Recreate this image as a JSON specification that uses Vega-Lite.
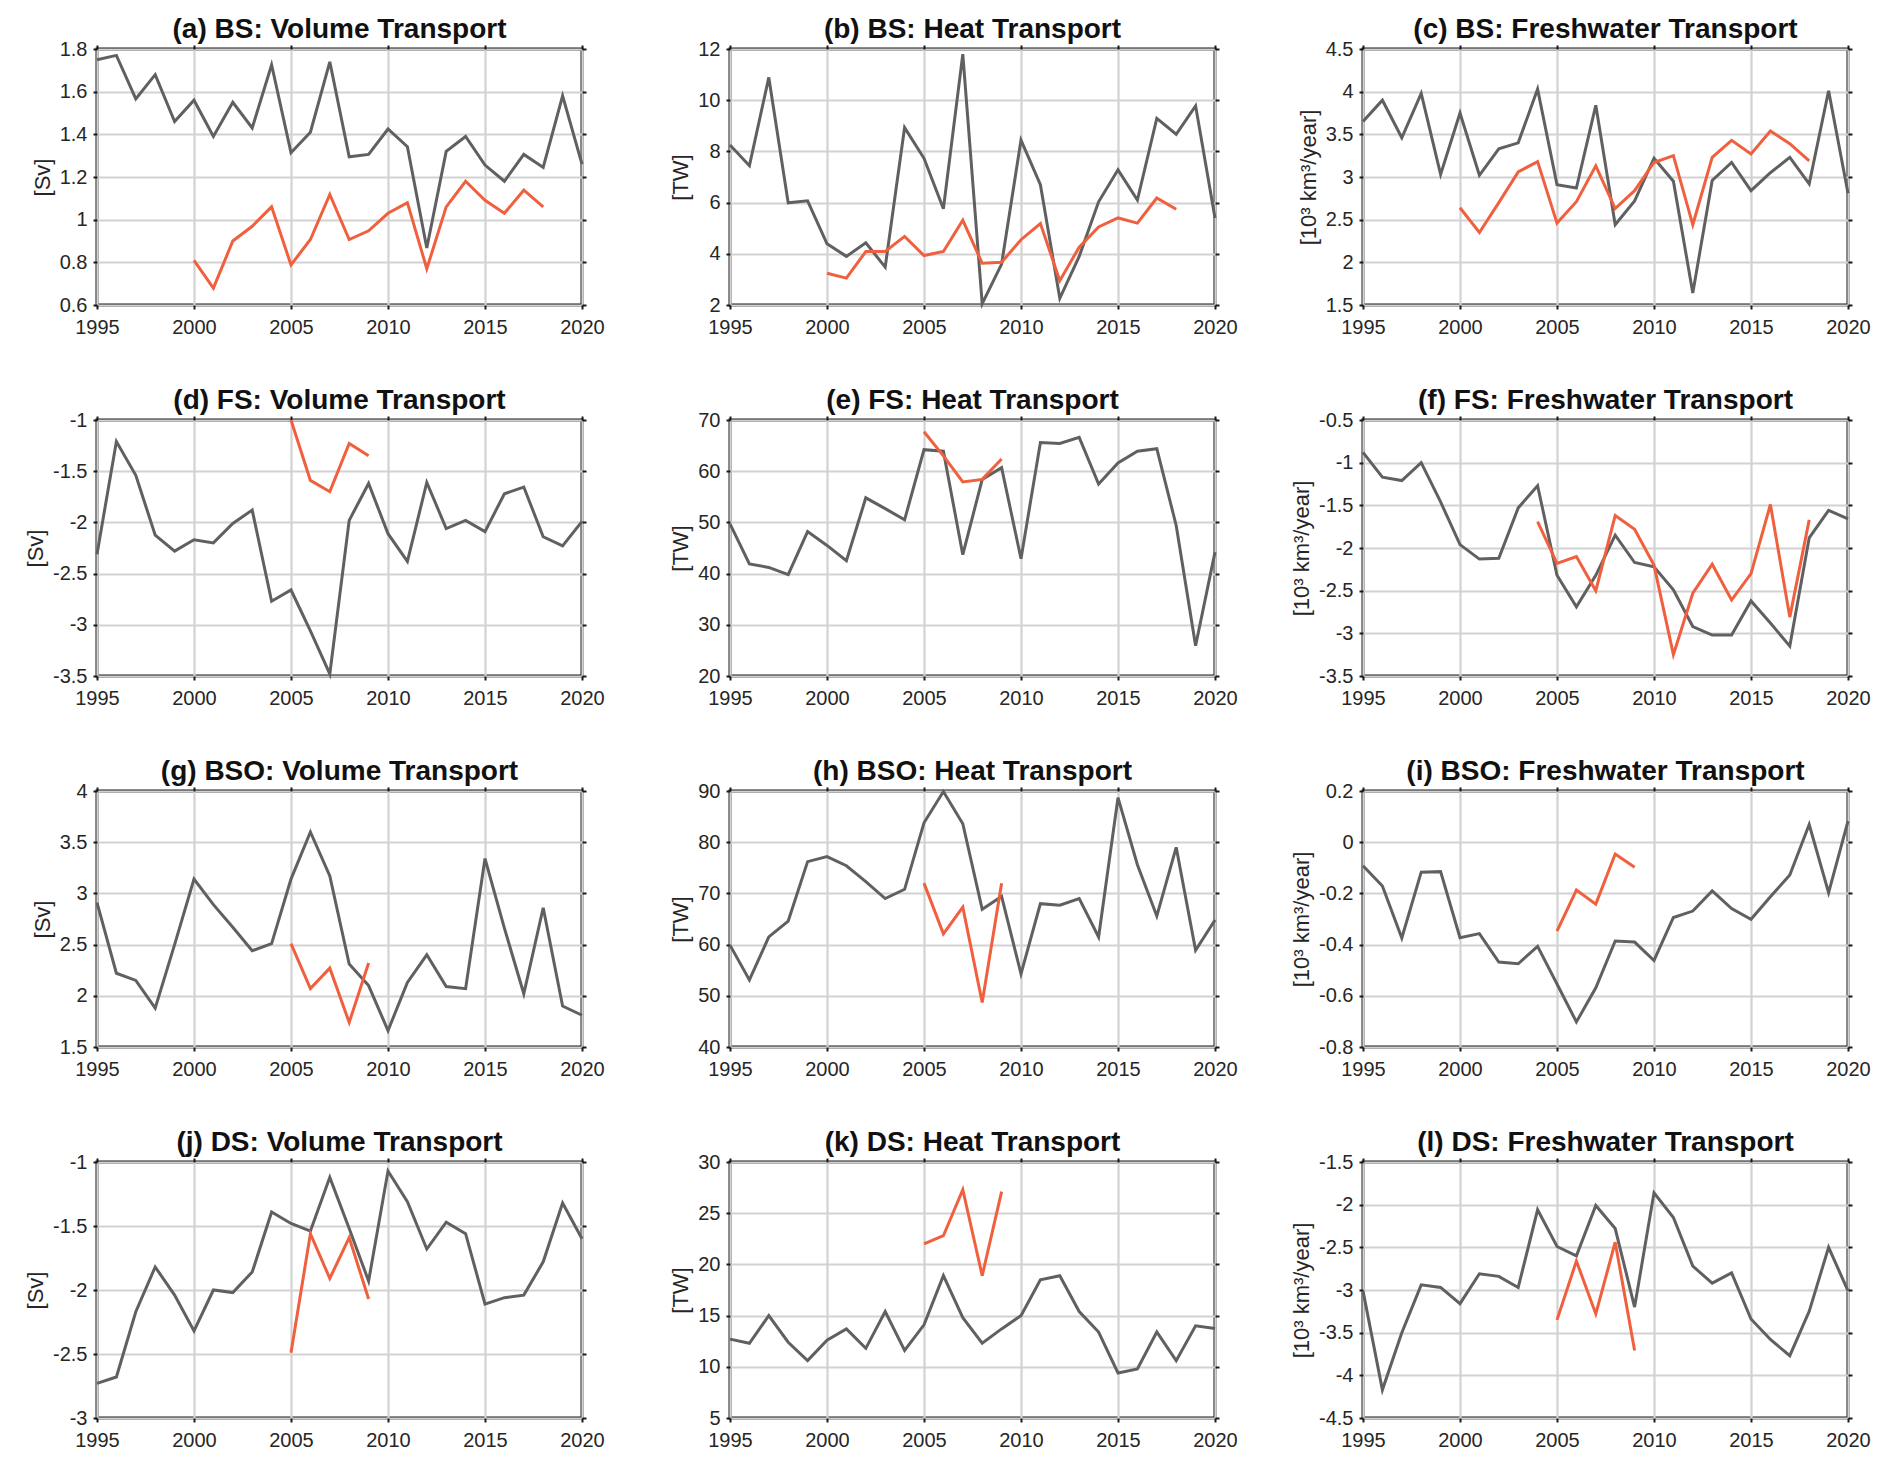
{
"$schema": "https://vega.github.io/schema/vega-lite/v6.json",
"padding": {"left": 23, "top": 14, "right": 10, "bottom": 10},
"background": "white",
"data": {"values": [
{"p":"a","s":"g","year":1995,"v":1.75},{"p":"a","s":"g","year":1996,"v":1.77},{"p":"a","s":"g","year":1997,"v":1.566},{"p":"a","s":"g","year":1998,"v":1.68},{"p":"a","s":"g","year":1999,"v":1.46},{"p":"a","s":"g","year":2000,"v":1.56},{"p":"a","s":"g","year":2001,"v":1.39},{"p":"a","s":"g","year":2002,"v":1.55},{"p":"a","s":"g","year":2003,"v":1.43},{"p":"a","s":"g","year":2004,"v":1.726},{"p":"a","s":"g","year":2005,"v":1.314},{"p":"a","s":"g","year":2006,"v":1.41},{"p":"a","s":"g","year":2007,"v":1.74},{"p":"a","s":"g","year":2008,"v":1.295},{"p":"a","s":"g","year":2009,"v":1.306},{"p":"a","s":"g","year":2010,"v":1.425},{"p":"a","s":"g","year":2011,"v":1.342},{"p":"a","s":"g","year":2012,"v":0.867},{"p":"a","s":"g","year":2013,"v":1.32},{"p":"a","s":"g","year":2014,"v":1.39},{"p":"a","s":"g","year":2015,"v":1.256},{"p":"a","s":"g","year":2016,"v":1.18},{"p":"a","s":"g","year":2017,"v":1.306},{"p":"a","s":"g","year":2018,"v":1.245},{"p":"a","s":"g","year":2019,"v":1.58},{"p":"a","s":"g","year":2020,"v":1.26},
{"p":"a","s":"r","year":2000,"v":0.809},{"p":"a","s":"r","year":2001,"v":0.679},{"p":"a","s":"r","year":2002,"v":0.9},{"p":"a","s":"r","year":2003,"v":0.969},{"p":"a","s":"r","year":2004,"v":1.06},{"p":"a","s":"r","year":2005,"v":0.788},{"p":"a","s":"r","year":2006,"v":0.907},{"p":"a","s":"r","year":2007,"v":1.118},{"p":"a","s":"r","year":2008,"v":0.907},{"p":"a","s":"r","year":2009,"v":0.948},{"p":"a","s":"r","year":2010,"v":1.03},{"p":"a","s":"r","year":2011,"v":1.08},{"p":"a","s":"r","year":2012,"v":0.77},{"p":"a","s":"r","year":2013,"v":1.06},{"p":"a","s":"r","year":2014,"v":1.18},{"p":"a","s":"r","year":2015,"v":1.091},{"p":"a","s":"r","year":2016,"v":1.03},{"p":"a","s":"r","year":2017,"v":1.138},{"p":"a","s":"r","year":2018,"v":1.06},
{"p":"b","s":"g","year":1995,"v":8.25},{"p":"b","s":"g","year":1996,"v":7.44},{"p":"b","s":"g","year":1997,"v":10.89},{"p":"b","s":"g","year":1998,"v":5.99},{"p":"b","s":"g","year":1999,"v":6.07},{"p":"b","s":"g","year":2000,"v":4.39},{"p":"b","s":"g","year":2001,"v":3.9},{"p":"b","s":"g","year":2002,"v":4.43},{"p":"b","s":"g","year":2003,"v":3.48},{"p":"b","s":"g","year":2004,"v":8.93},{"p":"b","s":"g","year":2005,"v":7.73},{"p":"b","s":"g","year":2006,"v":5.76},{"p":"b","s":"g","year":2007,"v":11.8},{"p":"b","s":"g","year":2008,"v":2.05},{"p":"b","s":"g","year":2009,"v":3.6},{"p":"b","s":"g","year":2010,"v":8.44},{"p":"b","s":"g","year":2011,"v":6.7},{"p":"b","s":"g","year":2012,"v":2.26},{"p":"b","s":"g","year":2013,"v":3.9},{"p":"b","s":"g","year":2014,"v":6.03},{"p":"b","s":"g","year":2015,"v":7.28},{"p":"b","s":"g","year":2016,"v":6.1},{"p":"b","s":"g","year":2017,"v":9.29},{"p":"b","s":"g","year":2018,"v":8.67},{"p":"b","s":"g","year":2019,"v":9.78},{"p":"b","s":"g","year":2020,"v":5.4},
{"p":"b","s":"r","year":2000,"v":3.24},{"p":"b","s":"r","year":2001,"v":3.05},{"p":"b","s":"r","year":2002,"v":4.09},{"p":"b","s":"r","year":2003,"v":4.09},{"p":"b","s":"r","year":2004,"v":4.68},{"p":"b","s":"r","year":2005,"v":3.93},{"p":"b","s":"r","year":2006,"v":4.09},{"p":"b","s":"r","year":2007,"v":5.31},{"p":"b","s":"r","year":2008,"v":3.63},{"p":"b","s":"r","year":2009,"v":3.67},{"p":"b","s":"r","year":2010,"v":4.55},{"p":"b","s":"r","year":2011,"v":5.18},{"p":"b","s":"r","year":2012,"v":2.95},{"p":"b","s":"r","year":2013,"v":4.26},{"p":"b","s":"r","year":2014,"v":5.05},{"p":"b","s":"r","year":2015,"v":5.4},{"p":"b","s":"r","year":2016,"v":5.2},{"p":"b","s":"r","year":2017,"v":6.18},{"p":"b","s":"r","year":2018,"v":5.74},
{"p":"c","s":"g","year":1995,"v":3.65},{"p":"c","s":"g","year":1996,"v":3.9},{"p":"c","s":"g","year":1997,"v":3.46},{"p":"c","s":"g","year":1998,"v":3.98},{"p":"c","s":"g","year":1999,"v":3.03},{"p":"c","s":"g","year":2000,"v":3.75},{"p":"c","s":"g","year":2001,"v":3.02},{"p":"c","s":"g","year":2002,"v":3.33},{"p":"c","s":"g","year":2003,"v":3.4},{"p":"c","s":"g","year":2004,"v":4.03},{"p":"c","s":"g","year":2005,"v":2.91},{"p":"c","s":"g","year":2006,"v":2.87},{"p":"c","s":"g","year":2007,"v":3.84},{"p":"c","s":"g","year":2008,"v":2.44},{"p":"c","s":"g","year":2009,"v":2.72},{"p":"c","s":"g","year":2010,"v":3.22},{"p":"c","s":"g","year":2011,"v":2.95},{"p":"c","s":"g","year":2012,"v":1.64},{"p":"c","s":"g","year":2013,"v":2.96},{"p":"c","s":"g","year":2014,"v":3.17},{"p":"c","s":"g","year":2015,"v":2.84},{"p":"c","s":"g","year":2016,"v":3.05},{"p":"c","s":"g","year":2017,"v":3.23},{"p":"c","s":"g","year":2018,"v":2.92},{"p":"c","s":"g","year":2019,"v":4.01},{"p":"c","s":"g","year":2020,"v":2.81},
{"p":"c","s":"r","year":2000,"v":2.64},{"p":"c","s":"r","year":2001,"v":2.35},{"p":"c","s":"r","year":2002,"v":2.7},{"p":"c","s":"r","year":2003,"v":3.06},{"p":"c","s":"r","year":2004,"v":3.18},{"p":"c","s":"r","year":2005,"v":2.46},{"p":"c","s":"r","year":2006,"v":2.71},{"p":"c","s":"r","year":2007,"v":3.13},{"p":"c","s":"r","year":2008,"v":2.63},{"p":"c","s":"r","year":2009,"v":2.84},{"p":"c","s":"r","year":2010,"v":3.17},{"p":"c","s":"r","year":2011,"v":3.25},{"p":"c","s":"r","year":2012,"v":2.44},{"p":"c","s":"r","year":2013,"v":3.23},{"p":"c","s":"r","year":2014,"v":3.43},{"p":"c","s":"r","year":2015,"v":3.27},{"p":"c","s":"r","year":2016,"v":3.54},{"p":"c","s":"r","year":2017,"v":3.39},{"p":"c","s":"r","year":2018,"v":3.19},
{"p":"d","s":"g","year":1995,"v":-2.31},{"p":"d","s":"g","year":1996,"v":-1.21},{"p":"d","s":"g","year":1997,"v":-1.54},{"p":"d","s":"g","year":1998,"v":-2.125},{"p":"d","s":"g","year":1999,"v":-2.28},{"p":"d","s":"g","year":2000,"v":-2.17},{"p":"d","s":"g","year":2001,"v":-2.2},{"p":"d","s":"g","year":2002,"v":-2.01},{"p":"d","s":"g","year":2003,"v":-1.88},{"p":"d","s":"g","year":2004,"v":-2.77},{"p":"d","s":"g","year":2005,"v":-2.66},{"p":"d","s":"g","year":2006,"v":-3.06},{"p":"d","s":"g","year":2007,"v":-3.48},{"p":"d","s":"g","year":2008,"v":-1.98},{"p":"d","s":"g","year":2009,"v":-1.62},{"p":"d","s":"g","year":2010,"v":-2.11},{"p":"d","s":"g","year":2011,"v":-2.38},{"p":"d","s":"g","year":2012,"v":-1.61},{"p":"d","s":"g","year":2013,"v":-2.06},{"p":"d","s":"g","year":2014,"v":-1.98},{"p":"d","s":"g","year":2015,"v":-2.09},{"p":"d","s":"g","year":2016,"v":-1.72},{"p":"d","s":"g","year":2017,"v":-1.655},{"p":"d","s":"g","year":2018,"v":-2.14},{"p":"d","s":"g","year":2019,"v":-2.23},{"p":"d","s":"g","year":2020,"v":-1.99},
{"p":"d","s":"r","year":2005,"v":-1.0},{"p":"d","s":"r","year":2006,"v":-1.59},{"p":"d","s":"r","year":2007,"v":-1.7},{"p":"d","s":"r","year":2008,"v":-1.23},{"p":"d","s":"r","year":2009,"v":-1.35},
{"p":"e","s":"g","year":1995,"v":49.7},{"p":"e","s":"g","year":1996,"v":41.9},{"p":"e","s":"g","year":1997,"v":41.2},{"p":"e","s":"g","year":1998,"v":39.8},{"p":"e","s":"g","year":1999,"v":48.2},{"p":"e","s":"g","year":2000,"v":45.5},{"p":"e","s":"g","year":2001,"v":42.5},{"p":"e","s":"g","year":2002,"v":54.8},{"p":"e","s":"g","year":2003,"v":52.7},{"p":"e","s":"g","year":2004,"v":50.5},{"p":"e","s":"g","year":2005,"v":64.2},{"p":"e","s":"g","year":2006,"v":63.9},{"p":"e","s":"g","year":2007,"v":43.7},{"p":"e","s":"g","year":2008,"v":58.4},{"p":"e","s":"g","year":2009,"v":60.7},{"p":"e","s":"g","year":2010,"v":42.9},{"p":"e","s":"g","year":2011,"v":65.6},{"p":"e","s":"g","year":2012,"v":65.4},{"p":"e","s":"g","year":2013,"v":66.6},{"p":"e","s":"g","year":2014,"v":57.5},{"p":"e","s":"g","year":2015,"v":61.6},{"p":"e","s":"g","year":2016,"v":63.9},{"p":"e","s":"g","year":2017,"v":64.4},{"p":"e","s":"g","year":2018,"v":49.4},{"p":"e","s":"g","year":2019,"v":25.9},{"p":"e","s":"g","year":2020,"v":44.2},
{"p":"e","s":"r","year":2005,"v":67.7},{"p":"e","s":"r","year":2006,"v":63.0},{"p":"e","s":"r","year":2007,"v":57.9},{"p":"e","s":"r","year":2008,"v":58.4},{"p":"e","s":"r","year":2009,"v":62.4},
{"p":"f","s":"g","year":1995,"v":-0.88},{"p":"f","s":"g","year":1996,"v":-1.17},{"p":"f","s":"g","year":1997,"v":-1.21},{"p":"f","s":"g","year":1998,"v":-1.0},{"p":"f","s":"g","year":1999,"v":-1.46},{"p":"f","s":"g","year":2000,"v":-1.96},{"p":"f","s":"g","year":2001,"v":-2.13},{"p":"f","s":"g","year":2002,"v":-2.12},{"p":"f","s":"g","year":2003,"v":-1.53},{"p":"f","s":"g","year":2004,"v":-1.27},{"p":"f","s":"g","year":2005,"v":-2.32},{"p":"f","s":"g","year":2006,"v":-2.69},{"p":"f","s":"g","year":2007,"v":-2.32},{"p":"f","s":"g","year":2008,"v":-1.85},{"p":"f","s":"g","year":2009,"v":-2.17},{"p":"f","s":"g","year":2010,"v":-2.22},{"p":"f","s":"g","year":2011,"v":-2.49},{"p":"f","s":"g","year":2012,"v":-2.92},{"p":"f","s":"g","year":2013,"v":-3.02},{"p":"f","s":"g","year":2014,"v":-3.02},{"p":"f","s":"g","year":2015,"v":-2.62},{"p":"f","s":"g","year":2016,"v":-2.88},{"p":"f","s":"g","year":2017,"v":-3.15},{"p":"f","s":"g","year":2018,"v":-1.88},{"p":"f","s":"g","year":2019,"v":-1.56},{"p":"f","s":"g","year":2020,"v":-1.66},
{"p":"f","s":"r","year":2004,"v":-1.69},{"p":"f","s":"r","year":2005,"v":-2.18},{"p":"f","s":"r","year":2006,"v":-2.1},{"p":"f","s":"r","year":2007,"v":-2.5},{"p":"f","s":"r","year":2008,"v":-1.62},{"p":"f","s":"r","year":2009,"v":-1.78},{"p":"f","s":"r","year":2010,"v":-2.2},{"p":"f","s":"r","year":2011,"v":-3.25},{"p":"f","s":"r","year":2012,"v":-2.53},{"p":"f","s":"r","year":2013,"v":-2.19},{"p":"f","s":"r","year":2014,"v":-2.61},{"p":"f","s":"r","year":2015,"v":-2.3},{"p":"f","s":"r","year":2016,"v":-1.49},{"p":"f","s":"r","year":2017,"v":-2.81},{"p":"f","s":"r","year":2018,"v":-1.67},
{"p":"g","s":"g","year":1995,"v":2.91},{"p":"g","s":"g","year":1996,"v":2.22},{"p":"g","s":"g","year":1997,"v":2.15},{"p":"g","s":"g","year":1998,"v":1.88},{"p":"g","s":"g","year":1999,"v":2.5},{"p":"g","s":"g","year":2000,"v":3.14},{"p":"g","s":"g","year":2001,"v":2.89},{"p":"g","s":"g","year":2002,"v":2.67},{"p":"g","s":"g","year":2003,"v":2.44},{"p":"g","s":"g","year":2004,"v":2.51},{"p":"g","s":"g","year":2005,"v":3.14},{"p":"g","s":"g","year":2006,"v":3.6},{"p":"g","s":"g","year":2007,"v":3.17},{"p":"g","s":"g","year":2008,"v":2.31},{"p":"g","s":"g","year":2009,"v":2.1},{"p":"g","s":"g","year":2010,"v":1.66},{"p":"g","s":"g","year":2011,"v":2.13},{"p":"g","s":"g","year":2012,"v":2.4},{"p":"g","s":"g","year":2013,"v":2.09},{"p":"g","s":"g","year":2014,"v":2.07},{"p":"g","s":"g","year":2015,"v":3.34},{"p":"g","s":"g","year":2016,"v":2.66},{"p":"g","s":"g","year":2017,"v":2.02},{"p":"g","s":"g","year":2018,"v":2.86},{"p":"g","s":"g","year":2019,"v":1.9},{"p":"g","s":"g","year":2020,"v":1.81},
{"p":"g","s":"r","year":2005,"v":2.51},{"p":"g","s":"r","year":2006,"v":2.07},{"p":"g","s":"r","year":2007,"v":2.27},{"p":"g","s":"r","year":2008,"v":1.74},{"p":"g","s":"r","year":2009,"v":2.32},
{"p":"h","s":"g","year":1995,"v":59.9},{"p":"h","s":"g","year":1996,"v":53.1},{"p":"h","s":"g","year":1997,"v":61.5},{"p":"h","s":"g","year":1998,"v":64.6},{"p":"h","s":"g","year":1999,"v":76.2},{"p":"h","s":"g","year":2000,"v":77.2},{"p":"h","s":"g","year":2001,"v":75.4},{"p":"h","s":"g","year":2002,"v":72.3},{"p":"h","s":"g","year":2003,"v":69.0},{"p":"h","s":"g","year":2004,"v":70.8},{"p":"h","s":"g","year":2005,"v":83.8},{"p":"h","s":"g","year":2006,"v":89.9},{"p":"h","s":"g","year":2007,"v":83.6},{"p":"h","s":"g","year":2008,"v":66.9},{"p":"h","s":"g","year":2009,"v":69.4},{"p":"h","s":"g","year":2010,"v":54.3},{"p":"h","s":"g","year":2011,"v":68.0},{"p":"h","s":"g","year":2012,"v":67.7},{"p":"h","s":"g","year":2013,"v":69.0},{"p":"h","s":"g","year":2014,"v":61.5},{"p":"h","s":"g","year":2015,"v":88.7},{"p":"h","s":"g","year":2016,"v":75.6},{"p":"h","s":"g","year":2017,"v":65.6},{"p":"h","s":"g","year":2018,"v":79.0},{"p":"h","s":"g","year":2019,"v":58.9},{"p":"h","s":"g","year":2020,"v":64.8},
{"p":"h","s":"r","year":2005,"v":72.0},{"p":"h","s":"r","year":2006,"v":62.1},{"p":"h","s":"r","year":2007,"v":67.3},{"p":"h","s":"r","year":2008,"v":48.7},{"p":"h","s":"r","year":2009,"v":72.0},
{"p":"i","s":"g","year":1995,"v":-0.092},{"p":"i","s":"g","year":1996,"v":-0.171},{"p":"i","s":"g","year":1997,"v":-0.374},{"p":"i","s":"g","year":1998,"v":-0.117},{"p":"i","s":"g","year":1999,"v":-0.115},{"p":"i","s":"g","year":2000,"v":-0.373},{"p":"i","s":"g","year":2001,"v":-0.357},{"p":"i","s":"g","year":2002,"v":-0.468},{"p":"i","s":"g","year":2003,"v":-0.475},{"p":"i","s":"g","year":2004,"v":-0.407},{"p":"i","s":"g","year":2005,"v":-0.554},{"p":"i","s":"g","year":2006,"v":-0.702},{"p":"i","s":"g","year":2007,"v":-0.569},{"p":"i","s":"g","year":2008,"v":-0.386},{"p":"i","s":"g","year":2009,"v":-0.39},{"p":"i","s":"g","year":2010,"v":-0.462},{"p":"i","s":"g","year":2011,"v":-0.294},{"p":"i","s":"g","year":2012,"v":-0.269},{"p":"i","s":"g","year":2013,"v":-0.19},{"p":"i","s":"g","year":2014,"v":-0.259},{"p":"i","s":"g","year":2015,"v":-0.301},{"p":"i","s":"g","year":2016,"v":-0.213},{"p":"i","s":"g","year":2017,"v":-0.128},{"p":"i","s":"g","year":2018,"v":0.069},{"p":"i","s":"g","year":2019,"v":-0.197},{"p":"i","s":"g","year":2020,"v":0.082},
{"p":"i","s":"r","year":2005,"v":-0.347},{"p":"i","s":"r","year":2006,"v":-0.187},{"p":"i","s":"r","year":2007,"v":-0.242},{"p":"i","s":"r","year":2008,"v":-0.046},{"p":"i","s":"r","year":2009,"v":-0.098},
{"p":"j","s":"g","year":1995,"v":-2.73},{"p":"j","s":"g","year":1996,"v":-2.68},{"p":"j","s":"g","year":1997,"v":-2.17},{"p":"j","s":"g","year":1998,"v":-1.82},{"p":"j","s":"g","year":1999,"v":-2.04},{"p":"j","s":"g","year":2000,"v":-2.32},{"p":"j","s":"g","year":2001,"v":-2.0},{"p":"j","s":"g","year":2002,"v":-2.02},{"p":"j","s":"g","year":2003,"v":-1.86},{"p":"j","s":"g","year":2004,"v":-1.39},{"p":"j","s":"g","year":2005,"v":-1.48},{"p":"j","s":"g","year":2006,"v":-1.54},{"p":"j","s":"g","year":2007,"v":-1.12},{"p":"j","s":"g","year":2008,"v":-1.52},{"p":"j","s":"g","year":2009,"v":-1.93},{"p":"j","s":"g","year":2010,"v":-1.07},{"p":"j","s":"g","year":2011,"v":-1.31},{"p":"j","s":"g","year":2012,"v":-1.68},{"p":"j","s":"g","year":2013,"v":-1.47},{"p":"j","s":"g","year":2014,"v":-1.56},{"p":"j","s":"g","year":2015,"v":-2.11},{"p":"j","s":"g","year":2016,"v":-2.06},{"p":"j","s":"g","year":2017,"v":-2.04},{"p":"j","s":"g","year":2018,"v":-1.78},{"p":"j","s":"g","year":2019,"v":-1.32},{"p":"j","s":"g","year":2020,"v":-1.6},
{"p":"j","s":"r","year":2005,"v":-2.49},{"p":"j","s":"r","year":2006,"v":-1.56},{"p":"j","s":"r","year":2007,"v":-1.91},{"p":"j","s":"r","year":2008,"v":-1.59},{"p":"j","s":"r","year":2009,"v":-2.07},
{"p":"k","s":"g","year":1995,"v":12.7},{"p":"k","s":"g","year":1996,"v":12.3},{"p":"k","s":"g","year":1997,"v":15.0},{"p":"k","s":"g","year":1998,"v":12.4},{"p":"k","s":"g","year":1999,"v":10.6},{"p":"k","s":"g","year":2000,"v":12.6},{"p":"k","s":"g","year":2001,"v":13.7},{"p":"k","s":"g","year":2002,"v":11.8},{"p":"k","s":"g","year":2003,"v":15.4},{"p":"k","s":"g","year":2004,"v":11.6},{"p":"k","s":"g","year":2005,"v":14.1},{"p":"k","s":"g","year":2006,"v":18.9},{"p":"k","s":"g","year":2007,"v":14.8},{"p":"k","s":"g","year":2008,"v":12.3},{"p":"k","s":"g","year":2009,"v":13.7},{"p":"k","s":"g","year":2010,"v":15.0},{"p":"k","s":"g","year":2011,"v":18.5},{"p":"k","s":"g","year":2012,"v":18.9},{"p":"k","s":"g","year":2013,"v":15.4},{"p":"k","s":"g","year":2014,"v":13.4},{"p":"k","s":"g","year":2015,"v":9.4},{"p":"k","s":"g","year":2016,"v":9.8},{"p":"k","s":"g","year":2017,"v":13.4},{"p":"k","s":"g","year":2018,"v":10.6},{"p":"k","s":"g","year":2019,"v":14.0},{"p":"k","s":"g","year":2020,"v":13.75},
{"p":"k","s":"r","year":2005,"v":22.0},{"p":"k","s":"r","year":2006,"v":22.8},{"p":"k","s":"r","year":2007,"v":27.3},{"p":"k","s":"r","year":2008,"v":18.9},{"p":"k","s":"r","year":2009,"v":27.1},
{"p":"l","s":"g","year":1995,"v":-3.01},{"p":"l","s":"g","year":1996,"v":-4.17},{"p":"l","s":"g","year":1997,"v":-3.5},{"p":"l","s":"g","year":1998,"v":-2.94},{"p":"l","s":"g","year":1999,"v":-2.97},{"p":"l","s":"g","year":2000,"v":-3.16},{"p":"l","s":"g","year":2001,"v":-2.81},{"p":"l","s":"g","year":2002,"v":-2.84},{"p":"l","s":"g","year":2003,"v":-2.97},{"p":"l","s":"g","year":2004,"v":-2.06},{"p":"l","s":"g","year":2005,"v":-2.49},{"p":"l","s":"g","year":2006,"v":-2.6},{"p":"l","s":"g","year":2007,"v":-2.01},{"p":"l","s":"g","year":2008,"v":-2.28},{"p":"l","s":"g","year":2009,"v":-3.2},{"p":"l","s":"g","year":2010,"v":-1.86},{"p":"l","s":"g","year":2011,"v":-2.15},{"p":"l","s":"g","year":2012,"v":-2.72},{"p":"l","s":"g","year":2013,"v":-2.92},{"p":"l","s":"g","year":2014,"v":-2.8},{"p":"l","s":"g","year":2015,"v":-3.34},{"p":"l","s":"g","year":2016,"v":-3.58},{"p":"l","s":"g","year":2017,"v":-3.77},{"p":"l","s":"g","year":2018,"v":-3.25},{"p":"l","s":"g","year":2019,"v":-2.5},{"p":"l","s":"g","year":2020,"v":-3.01},
{"p":"l","s":"r","year":2005,"v":-3.35},{"p":"l","s":"r","year":2006,"v":-2.66},{"p":"l","s":"r","year":2007,"v":-3.28},{"p":"l","s":"r","year":2008,"v":-2.44},{"p":"l","s":"r","year":2009,"v":-3.71}
]},
"columns": 3,
"spacing": {"row": 115, "column": 148},
"bounds": "flush",
"align": "all",
"concat": [
{"title":"(a) BS: Volume Transport","transform":[{"filter":"datum.p==='a'"}],"layer":[
 {"mark":"line","encoding":{"x":{"field":"year","type":"quantitative","scale":{"domain":[1995,2020],"nice":false},"axis":{"values":[1995,2000,2005,2010,2015,2020],"format":"d","title":null}},"y":{"field":"v","type":"quantitative","scale":{"domain":[0.6,1.8],"nice":false,"zero":false},"axis":{"values":[0.6,0.8,1,1.2,1.4,1.6,1.8],"labelExpr":"''+datum.value","title":"[Sv]"}},"color":{"field":"s","type":"nominal","scale":{"domain":["g","r"],"range":["#606060","#f0603e"]},"legend":null}}},
 {"mark":{"type":"point","opacity":0},"encoding":{"x":{"field":"year","type":"quantitative","axis":{"orient":"top","values":[1995,2000,2005,2010,2015,2020],"labels":false,"grid":false,"title":null}},"y":{"field":"v","type":"quantitative","axis":{"orient":"right","values":[0.6,0.8,1,1.2,1.4,1.6,1.8],"labels":false,"grid":false,"title":null}}}}
],"resolve":{"axis":{"x":"independent","y":"independent"}}},
{"title":"(b) BS: Heat Transport","transform":[{"filter":"datum.p==='b'"}],"layer":[
 {"mark":"line","encoding":{"x":{"field":"year","type":"quantitative","scale":{"domain":[1995,2020],"nice":false},"axis":{"values":[1995,2000,2005,2010,2015,2020],"format":"d","title":null}},"y":{"field":"v","type":"quantitative","scale":{"domain":[2,12],"nice":false,"zero":false},"axis":{"values":[2,4,6,8,10,12],"labelExpr":"''+datum.value","title":"[TW]"}},"color":{"field":"s","type":"nominal","scale":{"domain":["g","r"],"range":["#606060","#f0603e"]},"legend":null}}},
 {"mark":{"type":"point","opacity":0},"encoding":{"x":{"field":"year","type":"quantitative","axis":{"orient":"top","values":[1995,2000,2005,2010,2015,2020],"labels":false,"grid":false,"title":null}},"y":{"field":"v","type":"quantitative","axis":{"orient":"right","values":[2,4,6,8,10,12],"labels":false,"grid":false,"title":null}}}}
],"resolve":{"axis":{"x":"independent","y":"independent"}}},
{"title":"(c) BS: Freshwater Transport","transform":[{"filter":"datum.p==='c'"}],"layer":[
 {"mark":"line","encoding":{"x":{"field":"year","type":"quantitative","scale":{"domain":[1995,2020],"nice":false},"axis":{"values":[1995,2000,2005,2010,2015,2020],"format":"d","title":null}},"y":{"field":"v","type":"quantitative","scale":{"domain":[1.5,4.5],"nice":false,"zero":false},"axis":{"values":[1.5,2,2.5,3,3.5,4,4.5],"labelExpr":"''+datum.value","title":"[10³ km³/year]"}},"color":{"field":"s","type":"nominal","scale":{"domain":["g","r"],"range":["#606060","#f0603e"]},"legend":null}}},
 {"mark":{"type":"point","opacity":0},"encoding":{"x":{"field":"year","type":"quantitative","axis":{"orient":"top","values":[1995,2000,2005,2010,2015,2020],"labels":false,"grid":false,"title":null}},"y":{"field":"v","type":"quantitative","axis":{"orient":"right","values":[1.5,2,2.5,3,3.5,4,4.5],"labels":false,"grid":false,"title":null}}}}
],"resolve":{"axis":{"x":"independent","y":"independent"}}},
{"title":"(d) FS: Volume Transport","transform":[{"filter":"datum.p==='d'"}],"layer":[
 {"mark":"line","encoding":{"x":{"field":"year","type":"quantitative","scale":{"domain":[1995,2020],"nice":false},"axis":{"values":[1995,2000,2005,2010,2015,2020],"format":"d","title":null}},"y":{"field":"v","type":"quantitative","scale":{"domain":[-3.5,-1],"nice":false,"zero":false},"axis":{"values":[-3.5,-3,-2.5,-2,-1.5,-1],"labelExpr":"''+datum.value","title":"[Sv]"}},"color":{"field":"s","type":"nominal","scale":{"domain":["g","r"],"range":["#606060","#f0603e"]},"legend":null}}},
 {"mark":{"type":"point","opacity":0},"encoding":{"x":{"field":"year","type":"quantitative","axis":{"orient":"top","values":[1995,2000,2005,2010,2015,2020],"labels":false,"grid":false,"title":null}},"y":{"field":"v","type":"quantitative","axis":{"orient":"right","values":[-3.5,-3,-2.5,-2,-1.5,-1],"labels":false,"grid":false,"title":null}}}}
],"resolve":{"axis":{"x":"independent","y":"independent"}}},
{"title":"(e) FS: Heat Transport","transform":[{"filter":"datum.p==='e'"}],"layer":[
 {"mark":"line","encoding":{"x":{"field":"year","type":"quantitative","scale":{"domain":[1995,2020],"nice":false},"axis":{"values":[1995,2000,2005,2010,2015,2020],"format":"d","title":null}},"y":{"field":"v","type":"quantitative","scale":{"domain":[20,70],"nice":false,"zero":false},"axis":{"values":[20,30,40,50,60,70],"labelExpr":"''+datum.value","title":"[TW]"}},"color":{"field":"s","type":"nominal","scale":{"domain":["g","r"],"range":["#606060","#f0603e"]},"legend":null}}},
 {"mark":{"type":"point","opacity":0},"encoding":{"x":{"field":"year","type":"quantitative","axis":{"orient":"top","values":[1995,2000,2005,2010,2015,2020],"labels":false,"grid":false,"title":null}},"y":{"field":"v","type":"quantitative","axis":{"orient":"right","values":[20,30,40,50,60,70],"labels":false,"grid":false,"title":null}}}}
],"resolve":{"axis":{"x":"independent","y":"independent"}}},
{"title":"(f) FS: Freshwater Transport","transform":[{"filter":"datum.p==='f'"}],"layer":[
 {"mark":"line","encoding":{"x":{"field":"year","type":"quantitative","scale":{"domain":[1995,2020],"nice":false},"axis":{"values":[1995,2000,2005,2010,2015,2020],"format":"d","title":null}},"y":{"field":"v","type":"quantitative","scale":{"domain":[-3.5,-0.5],"nice":false,"zero":false},"axis":{"values":[-3.5,-3,-2.5,-2,-1.5,-1,-0.5],"labelExpr":"''+datum.value","title":"[10³ km³/year]"}},"color":{"field":"s","type":"nominal","scale":{"domain":["g","r"],"range":["#606060","#f0603e"]},"legend":null}}},
 {"mark":{"type":"point","opacity":0},"encoding":{"x":{"field":"year","type":"quantitative","axis":{"orient":"top","values":[1995,2000,2005,2010,2015,2020],"labels":false,"grid":false,"title":null}},"y":{"field":"v","type":"quantitative","axis":{"orient":"right","values":[-3.5,-3,-2.5,-2,-1.5,-1,-0.5],"labels":false,"grid":false,"title":null}}}}
],"resolve":{"axis":{"x":"independent","y":"independent"}}},
{"title":"(g) BSO: Volume Transport","transform":[{"filter":"datum.p==='g'"}],"layer":[
 {"mark":"line","encoding":{"x":{"field":"year","type":"quantitative","scale":{"domain":[1995,2020],"nice":false},"axis":{"values":[1995,2000,2005,2010,2015,2020],"format":"d","title":null}},"y":{"field":"v","type":"quantitative","scale":{"domain":[1.5,4],"nice":false,"zero":false},"axis":{"values":[1.5,2,2.5,3,3.5,4],"labelExpr":"''+datum.value","title":"[Sv]"}},"color":{"field":"s","type":"nominal","scale":{"domain":["g","r"],"range":["#606060","#f0603e"]},"legend":null}}},
 {"mark":{"type":"point","opacity":0},"encoding":{"x":{"field":"year","type":"quantitative","axis":{"orient":"top","values":[1995,2000,2005,2010,2015,2020],"labels":false,"grid":false,"title":null}},"y":{"field":"v","type":"quantitative","axis":{"orient":"right","values":[1.5,2,2.5,3,3.5,4],"labels":false,"grid":false,"title":null}}}}
],"resolve":{"axis":{"x":"independent","y":"independent"}}},
{"title":"(h) BSO: Heat Transport","transform":[{"filter":"datum.p==='h'"}],"layer":[
 {"mark":"line","encoding":{"x":{"field":"year","type":"quantitative","scale":{"domain":[1995,2020],"nice":false},"axis":{"values":[1995,2000,2005,2010,2015,2020],"format":"d","title":null}},"y":{"field":"v","type":"quantitative","scale":{"domain":[40,90],"nice":false,"zero":false},"axis":{"values":[40,50,60,70,80,90],"labelExpr":"''+datum.value","title":"[TW]"}},"color":{"field":"s","type":"nominal","scale":{"domain":["g","r"],"range":["#606060","#f0603e"]},"legend":null}}},
 {"mark":{"type":"point","opacity":0},"encoding":{"x":{"field":"year","type":"quantitative","axis":{"orient":"top","values":[1995,2000,2005,2010,2015,2020],"labels":false,"grid":false,"title":null}},"y":{"field":"v","type":"quantitative","axis":{"orient":"right","values":[40,50,60,70,80,90],"labels":false,"grid":false,"title":null}}}}
],"resolve":{"axis":{"x":"independent","y":"independent"}}},
{"title":"(i) BSO: Freshwater Transport","transform":[{"filter":"datum.p==='i'"}],"layer":[
 {"mark":"line","encoding":{"x":{"field":"year","type":"quantitative","scale":{"domain":[1995,2020],"nice":false},"axis":{"values":[1995,2000,2005,2010,2015,2020],"format":"d","title":null}},"y":{"field":"v","type":"quantitative","scale":{"domain":[-0.8,0.2],"nice":false,"zero":false},"axis":{"values":[-0.8,-0.6,-0.4,-0.2,0,0.2],"labelExpr":"''+datum.value","title":"[10³ km³/year]"}},"color":{"field":"s","type":"nominal","scale":{"domain":["g","r"],"range":["#606060","#f0603e"]},"legend":null}}},
 {"mark":{"type":"point","opacity":0},"encoding":{"x":{"field":"year","type":"quantitative","axis":{"orient":"top","values":[1995,2000,2005,2010,2015,2020],"labels":false,"grid":false,"title":null}},"y":{"field":"v","type":"quantitative","axis":{"orient":"right","values":[-0.8,-0.6,-0.4,-0.2,0,0.2],"labels":false,"grid":false,"title":null}}}}
],"resolve":{"axis":{"x":"independent","y":"independent"}}},
{"title":"(j) DS: Volume Transport","transform":[{"filter":"datum.p==='j'"}],"layer":[
 {"mark":"line","encoding":{"x":{"field":"year","type":"quantitative","scale":{"domain":[1995,2020],"nice":false},"axis":{"values":[1995,2000,2005,2010,2015,2020],"format":"d","title":null}},"y":{"field":"v","type":"quantitative","scale":{"domain":[-3,-1],"nice":false,"zero":false},"axis":{"values":[-3,-2.5,-2,-1.5,-1],"labelExpr":"''+datum.value","title":"[Sv]"}},"color":{"field":"s","type":"nominal","scale":{"domain":["g","r"],"range":["#606060","#f0603e"]},"legend":null}}},
 {"mark":{"type":"point","opacity":0},"encoding":{"x":{"field":"year","type":"quantitative","axis":{"orient":"top","values":[1995,2000,2005,2010,2015,2020],"labels":false,"grid":false,"title":null}},"y":{"field":"v","type":"quantitative","axis":{"orient":"right","values":[-3,-2.5,-2,-1.5,-1],"labels":false,"grid":false,"title":null}}}}
],"resolve":{"axis":{"x":"independent","y":"independent"}}},
{"title":"(k) DS: Heat Transport","transform":[{"filter":"datum.p==='k'"}],"layer":[
 {"mark":"line","encoding":{"x":{"field":"year","type":"quantitative","scale":{"domain":[1995,2020],"nice":false},"axis":{"values":[1995,2000,2005,2010,2015,2020],"format":"d","title":null}},"y":{"field":"v","type":"quantitative","scale":{"domain":[5,30],"nice":false,"zero":false},"axis":{"values":[5,10,15,20,25,30],"labelExpr":"''+datum.value","title":"[TW]"}},"color":{"field":"s","type":"nominal","scale":{"domain":["g","r"],"range":["#606060","#f0603e"]},"legend":null}}},
 {"mark":{"type":"point","opacity":0},"encoding":{"x":{"field":"year","type":"quantitative","axis":{"orient":"top","values":[1995,2000,2005,2010,2015,2020],"labels":false,"grid":false,"title":null}},"y":{"field":"v","type":"quantitative","axis":{"orient":"right","values":[5,10,15,20,25,30],"labels":false,"grid":false,"title":null}}}}
],"resolve":{"axis":{"x":"independent","y":"independent"}}},
{"title":"(l) DS: Freshwater Transport","transform":[{"filter":"datum.p==='l'"}],"layer":[
 {"mark":"line","encoding":{"x":{"field":"year","type":"quantitative","scale":{"domain":[1995,2020],"nice":false},"axis":{"values":[1995,2000,2005,2010,2015,2020],"format":"d","title":null}},"y":{"field":"v","type":"quantitative","scale":{"domain":[-4.5,-1.5],"nice":false,"zero":false},"axis":{"values":[-4.5,-4,-3.5,-3,-2.5,-2,-1.5],"labelExpr":"''+datum.value","title":"[10³ km³/year]"}},"color":{"field":"s","type":"nominal","scale":{"domain":["g","r"],"range":["#606060","#f0603e"]},"legend":null}}},
 {"mark":{"type":"point","opacity":0},"encoding":{"x":{"field":"year","type":"quantitative","axis":{"orient":"top","values":[1995,2000,2005,2010,2015,2020],"labels":false,"grid":false,"title":null}},"y":{"field":"v","type":"quantitative","axis":{"orient":"right","values":[-4.5,-4,-3.5,-3,-2.5,-2,-1.5],"labels":false,"grid":false,"title":null}}}}
],"resolve":{"axis":{"x":"independent","y":"independent"}}}
],
"config": {
 "font": "Liberation Sans",
 "view": {"continuousWidth": 485, "continuousHeight": 256, "stroke": "#1a1a1a", "strokeWidth": 3},
 "axis": {"labelFont": "Liberation Sans", "labelFontSize": 20, "labelColor": "#262626", "labelFlush": false, "labelOverlap": false, "titleFont": "Liberation Sans", "titleFontSize": 22, "titleFontWeight": "normal", "titleColor": "#262626", "titlePadding": 5, "domain": false, "tickColor": "#1a1a1a", "tickWidth": 2, "tickSize": 4, "gridColor": "#d2d2d2", "gridWidth": 2.2, "gridOpacity": 1},
 "axisX": {"labelPadding": 8},
 "axisY": {"labelPadding": 6},
 "title": {"font": "Liberation Sans", "fontSize": 28, "fontWeight": "bold", "color": "#111111", "anchor": "middle", "offset": -5},
 "line": {"strokeWidth": 3}
}
}
